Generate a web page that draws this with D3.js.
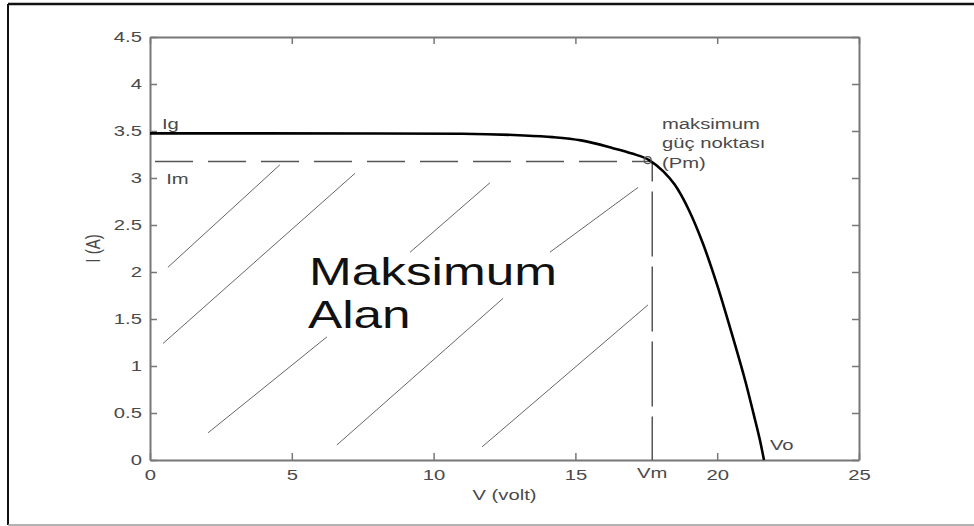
<!DOCTYPE html>
<html>
<head>
<meta charset="utf-8">
<script src="https://cdn.jsdelivr.net/npm/d3@7"></script>
<style>
  body { margin: 0; background: #fff; }
  svg text { font-family: "Liberation Sans", Arial, sans-serif; }
</style>
</head>
<body>
<div id="chart"></div>
<script>
// I-V curve of the solar cell
const voltage = [0, 8, 11, 13, 14.2, 15.2, 16.3, 17.0, 17.6, 18.1, 18.5, 19.0, 19.5, 20.0, 20.5, 21.0, 21.3, 21.5, 21.65];
const current = [3.475, 3.474, 3.47, 3.455, 3.435, 3.40, 3.32, 3.26, 3.19, 3.07, 2.93, 2.66, 2.30, 1.86, 1.36, 0.83, 0.47, 0.22, 0];

const xTicks = [0, 5, 10, 15, 20, 25];
const yTicks = [0, 0.5, 1, 1.5, 2, 2.5, 3, 3.5, 4, 4.5];
const yTickLabels = ['0', '0.5', '1', '1.5', '2', '2.5', '3', '3.5', '4', '4.5'];

const vm = 17.71, im = 3.175;
const pmMarker = [17.55, 3.19];

// hatching of the "Maksimum Alan" rectangle: [V, I] start and end
const hatchStart = [[0.63, 2.05], [0.46, 1.24], [2.05, 0.29], [6.59, 0.16], [9.17, 2.21], [14.10, 2.21], [11.71, 0.14]];
const hatchEnd = [[4.58, 3.14], [7.23, 3.05], [6.24, 1.31], [12.45, 1.72], [11.99, 2.95], [17.21, 2.90], [17.56, 1.65]];

const width = 974, height = 526;
const sx = 1.35; // the picture is stretched sideways
const axisColor = '#777', textColor = '#4a4a4a';

const x = d3.scaleLinear().domain([0, 25]).range([150, 859]);
const y = d3.scaleLinear().domain([0, 4.5]).range([460, 37]);

const svg = d3.select('#chart').append('svg')
    .attr('width', width)
    .attr('height', height);

// outer frame
svg.append('line').attr('x1', 8).attr('y1', 4).attr('x2', width).attr('y2', 4)
    .attr('stroke', '#111').attr('stroke-width', 2.5);
svg.append('line').attr('x1', 8).attr('y1', 4).attr('x2', 8).attr('y2', 525)
    .attr('stroke', '#111').attr('stroke-width', 2);
svg.append('line').attr('x1', 8).attr('y1', 525).attr('x2', width).attr('y2', 525)
    .attr('stroke', '#999').attr('stroke-width', 1.5);

function styleAxis(g) {
  g.select('.domain').attr('stroke', axisColor).attr('stroke-width', 2);
  g.selectAll('.tick line').attr('stroke', axisColor).attr('stroke-width', 1.5);
  g.selectAll('.tick text')
      .attr('fill', textColor)
      .style('font-size', '15px')
      .style('font-family', '"Liberation Sans", Arial, sans-serif');
}

const xAxis = svg.append('g')
    .attr('transform', `translate(0,${y(0)})`)
    .call(d3.axisBottom(x).tickValues(xTicks).tickSizeInner(-7).tickSizeOuter(0).tickPadding(9))
    .call(styleAxis);
xAxis.selectAll('.tick text').attr('transform', `scale(${sx},1)`);

const yAxis = svg.append('g')
    .attr('transform', `translate(${x(0)},0)`)
    .call(d3.axisLeft(y).tickValues(yTicks).tickFormat((d, i) => yTickLabels[i])
      .tickSizeInner(-7).tickSizeOuter(0).tickPadding(8))
    .call(styleAxis);
yAxis.selectAll('.tick text').attr('x', 0).attr('transform', `translate(-8,0) scale(${sx},1)`);

svg.append('g')
    .attr('transform', `translate(0,${y(4.5)})`)
    .call(d3.axisTop(x).tickValues(xTicks).tickFormat('').tickSizeInner(-7).tickSizeOuter(0))
    .call(styleAxis);

svg.append('g')
    .attr('transform', `translate(${x(25)},0)`)
    .call(d3.axisRight(y).tickValues(yTicks).tickFormat('').tickSizeInner(-7).tickSizeOuter(0))
    .call(styleAxis);

// hatching
svg.append('g').selectAll('line')
    .data(hatchStart)
  .enter().append('line')
    .attr('x1', (d) => x(d[0]))
    .attr('y1', (d) => y(d[1]))
    .attr('x2', (d, i) => x(hatchEnd[i][0]))
    .attr('y2', (d, i) => y(hatchEnd[i][1]))
    .attr('stroke', '#666')
    .attr('stroke-width', 1);

// Im and Vm guides
svg.append('line')
    .attr('x1', x(0)).attr('y1', y(im))
    .attr('x2', x(vm)).attr('y2', y(im))
    .attr('stroke', '#555').attr('stroke-width', 1.5)
    .attr('stroke-dasharray', '38,15').attr('stroke-dashoffset', -5);
svg.append('line')
    .attr('x1', x(vm)).attr('y1', y(im))
    .attr('x2', x(vm)).attr('y2', y(0))
    .attr('stroke', '#555').attr('stroke-width', 1.5)
    .attr('stroke-dasharray', '65,10').attr('stroke-dashoffset', 45);

// the curve
const line = d3.line()
    .x((d, i) => x(voltage[i]))
    .y((d, i) => y(current[i]))
    .curve(d3.curveMonotoneX);
svg.append('path')
    .datum(voltage)
    .attr('d', line)
    .attr('fill', 'none')
    .attr('stroke', '#000')
    .attr('stroke-width', 2.6);

svg.append('circle')
    .attr('cx', x(pmMarker[0]))
    .attr('cy', y(pmMarker[1]))
    .attr('r', 3.5)
    .attr('fill', 'none')
    .attr('stroke', '#555')
    .attr('stroke-width', 1.2);

// texts
function label(px, py, txt, size, anchor, color, rot) {
  svg.append('text')
      .attr('transform', `translate(${px},${py}) scale(${sx},1)` + (rot ? ` rotate(${rot})` : ''))
      .attr('text-anchor', anchor || 'start')
      .attr('fill', color || textColor)
      .style('font-size', size + 'px')
      .text(txt);
}

label(x(vm), 478, 'Vm', 15, 'middle');
label(x(0.42), 129, 'Ig', 15);
label(x(0.57), 184, 'Im', 15);
label(x(21.86), 450, 'Vo', 15);
label(662, 129, 'maksimum', 15);
label(662, 148, 'güç noktası', 15);
label(662, 168, '(Pm)', 15);
label(309, 285, 'Maksimum', 38, 'start', '#111');
label(308, 328, 'Alan', 38, 'start', '#111');
label((x(0) + x(25)) / 2, 500, 'V (volt)', 15, 'middle');
label(100, (y(0) + y(4.5)) / 2, 'I (A)', 15, 'middle', textColor, -90);
</script>
</body>
</html>
